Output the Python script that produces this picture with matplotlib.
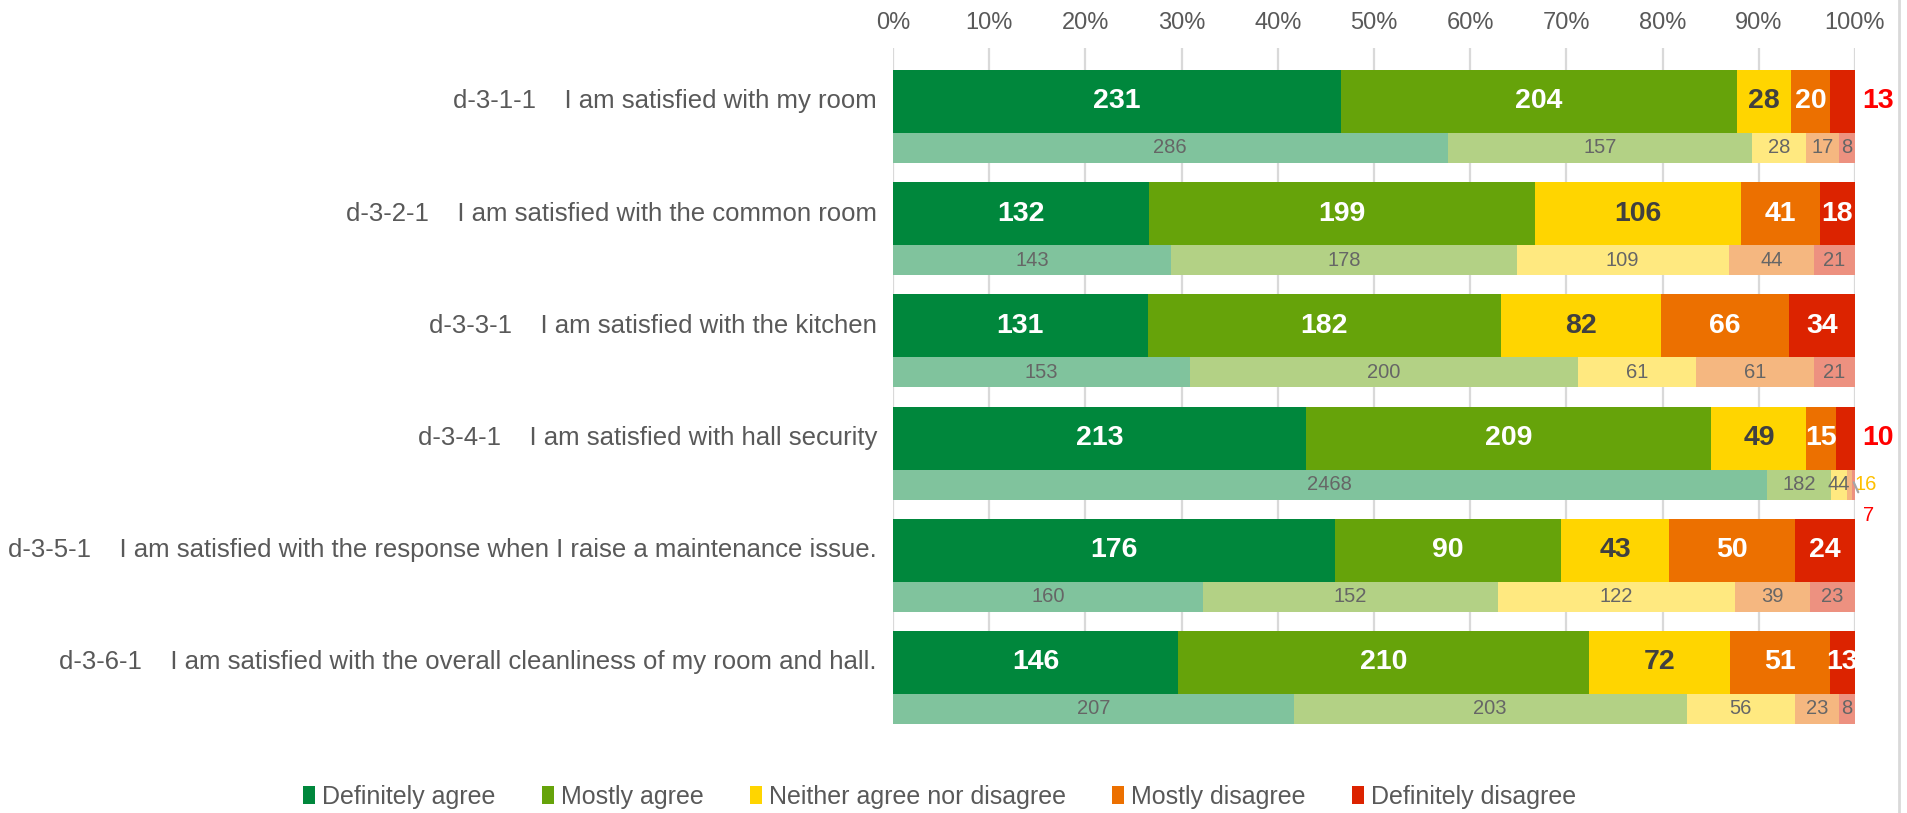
"""
Hall satisfaction survey - stacked 100% bars, this year vs. last year
"""

import numpy as np
import matplotlib
matplotlib.use("Agg")
import matplotlib.pyplot as plt
from matplotlib.lines import Line2D
from matplotlib.patches import Patch

plt.rcParams['font.family'] = ['Liberation Sans', 'DejaVu Sans']

# Questions
QUESTIONS = [
    "d-3-1-1    I am satisfied with my room",
    "d-3-2-1    I am satisfied with the common room",
    "d-3-3-1    I am satisfied with the kitchen",
    "d-3-4-1    I am satisfied with hall security",
    "d-3-5-1    I am satisfied with the response when I raise a maintenance issue.",
    "d-3-6-1    I am satisfied with the overall cleanliness of my room and hall.",
]
RESPONSES = ["Definitely agree", "Mostly agree", "Neither agree nor disagree",
             "Mostly disagree", "Definitely disagree"]

# Counts per question (columns follow RESPONSES)
CURRENT = [
    [231, 204, 28, 20, 13],
    [132, 199, 106, 41, 18],
    [131, 182, 82, 66, 34],
    [213, 209, 49, 15, 10],
    [176, 90, 43, 50, 24],
    [146, 210, 72, 51, 13],
]
PREVIOUS = [
    [286, 157, 28, 17, 8],
    [143, 178, 109, 44, 21],
    [153, 200, 61, 61, 21],
    [2468, 182, 44, 16, 7],
    [160, 152, 122, 39, 23],
    [207, 203, 56, 23, 8],
]

COLORS = ['#00873C', '#66A30A', '#FFD500', '#EC7000', '#DC2300']
LIGHT = ['#80C39D', '#B3D185', '#FFE980', '#F5B780', '#ED9180']
MAIN_TXT = ['white', 'white', '#404040', 'white', 'white']
SUB_TXT = '#666666'

# (row, segment) labels that Excel pushed outside the bar
OUTSIDE_MAIN = [(0, 4), (3, 4)]

MAIN_H = 0.561
SUB_H = 0.267
MAIN_FS = 20.5
SUB_FS = 14.5


def draw_bars(ax):
    cur = np.array(CURRENT, dtype=float)
    prev = np.array(PREVIOUS, dtype=float)
    cur_pct = cur / cur.sum(axis=1, keepdims=True)
    prev_pct = prev / prev.sum(axis=1, keepdims=True)

    y_main = np.arange(len(QUESTIONS), dtype=float)
    y_sub = y_main + MAIN_H / 2 + SUB_H / 2

    left_c = np.zeros(len(QUESTIONS))
    left_p = np.zeros(len(QUESTIONS))
    for j in range(len(RESPONSES)):
        ax.barh(y_main, cur_pct[:, j], left=left_c, height=MAIN_H,
                color=COLORS[j], zorder=3)
        ax.barh(y_sub, prev_pct[:, j], left=left_p, height=SUB_H,
                color=LIGHT[j], zorder=3)

        for i in range(len(QUESTIONS)):
            # main (current year) labels
            val = int(cur[i, j])
            if (i, j) in OUTSIDE_MAIN:
                ax.text(1.008, y_main[i], str(val), ha='left', va='center',
                        color='#FF0000', fontsize=MAIN_FS, fontweight='bold', zorder=5)
            else:
                xc = left_c[i] + cur_pct[i, j] / 2
                ax.text(xc, y_main[i], str(val), ha='center', va='center',
                        color=MAIN_TXT[j], fontsize=MAIN_FS, fontweight='bold', zorder=5)

            # sub (previous year) labels
            pval = int(prev[i, j])
            xc = left_p[i] + prev_pct[i, j] / 2
            if i == 3 and j == 3:
                ax.text(1.0, y_sub[i], str(pval), ha='left', va='center',
                        color='#FFC000', fontsize=SUB_FS, zorder=5)
            elif i == 3 and j == 4:
                ax.annotate(str(pval), xy=(xc, y_sub[i] - 0.02),
                            xytext=(1.0145, y_sub[i] + 0.28),
                            ha='center', va='center', color='#FF0000', fontsize=SUB_FS,
                            arrowprops=dict(arrowstyle='-', color='#A6A6A6', lw=1.6,
                                            shrinkA=9, shrinkB=0),
                            annotation_clip=False, zorder=5)
            else:
                ax.text(xc, y_sub[i], str(pval), ha='center', va='center',
                        color=SUB_TXT, fontsize=SUB_FS, zorder=5)

        left_c += cur_pct[:, j]
        left_p += prev_pct[:, j]

    return y_main


def main():
    fig = plt.figure(figsize=(19.08, 8.13), dpi=100)
    ax = fig.add_axes([0.468, 0.1095, 0.5042, 0.8315])

    y_main = draw_bars(ax)

    ax.set_xlim(0, 1)
    ax.set_ylim(5.548, -0.477)

    ticks = np.linspace(0, 1, 11)
    ax.set_xticks(ticks)
    ax.set_xticklabels([f"{int(round(t * 100))}%" for t in ticks])
    ax.xaxis.tick_top()
    ax.tick_params(axis='x', length=0, pad=10, labelsize=17, labelcolor='#595959')
    ax.grid(axis='x', color='#D9D9D9', linewidth=1.6, zorder=0)
    ax.set_axisbelow(True)

    ax.set_yticks([])
    for i, q in enumerate(QUESTIONS):
        ax.text(-0.0166, y_main[i], q, ha='right', va='center',
                fontsize=18.5, color='#595959', transform=ax.get_yaxis_transform())

    for s in ax.spines.values():
        s.set_visible(False)

    # Chart border line on the right
    fig.add_artist(Line2D([0.9953, 0.9953], [0, 1], color='#D9D9D9', lw=2,
                          transform=fig.transFigure))

    handles = [Patch(facecolor=c, edgecolor='none') for c in COLORS]
    fig.legend(handles, RESPONSES, loc='center', bbox_to_anchor=(0.4923, 0.0197),
               ncol=5, frameon=False, fontsize=18, handlelength=0.48,
               handleheight=0.7, handletextpad=0.28, columnspacing=1.85,
               labelcolor='#595959')

    fig.savefig("out.png", dpi=100)


if __name__ == "__main__":
    main()
